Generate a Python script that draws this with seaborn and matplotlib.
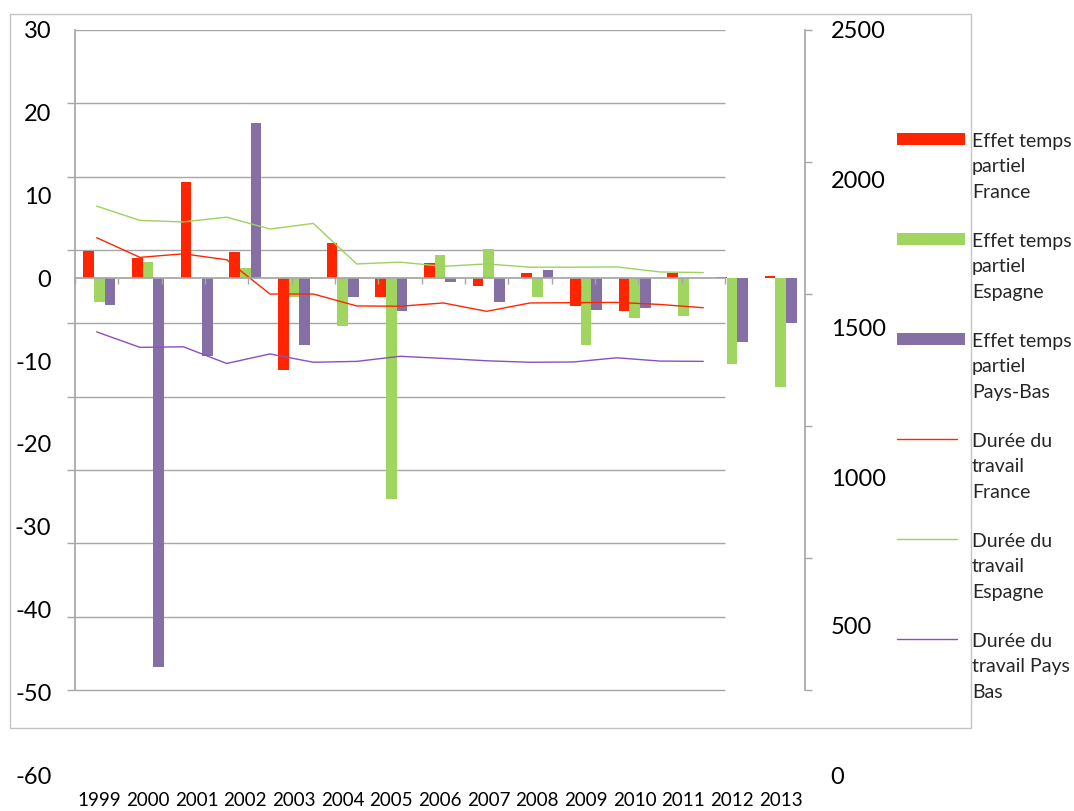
import numpy as np
import pandas as pd
import seaborn as sns
import matplotlib.pyplot as plt
from matplotlib.patches import Rectangle
from matplotlib.lines import Line2D

annees = [str(a) for a in range(1999, 2014)]
pays = ['France', 'Espagne', 'Pays-Bas']

# effet temps partiel (axe de gauche)
effet_france = [3.3, 2.5, 11.6, 3.2, -11.1, 4.3, -2.3, 1.8, -0.9, 0.6, -3.4, -4.0, 0.6, 0.2, 0.3]
effet_espagne = [-2.9, 2.0, np.nan, 1.2, -2.3, -5.7, -26.6, 2.8, 3.6, -2.3, -8.0, -4.8, -4.6, -10.4, -13.1]
effet_pays_bas = [-3.2, -46.9, -9.4, 18.8, -8.1, -2.3, -3.9, -0.4, -2.9, 1.0, -3.8, -3.6, np.nan, -7.7, -5.4]

# durée du travail (axe de droite)
duree_france = [1803, 1737, 1749, 1729, 1614, 1614, 1574, 1573, 1584, 1556, 1584, 1585, 1586, 1579, 1568]
duree_espagne = [1909, 1861, 1856, 1872, 1832, 1851, 1715, 1721, 1707, 1715, 1704, 1704, 1705, 1688, 1686]
duree_pays_bas = [1487, 1435, 1437, 1381, 1413, 1385, 1388, 1405, 1398, 1390, 1385, 1386, 1400, 1389, 1388]

legende = ['Effet temps\npartiel\nFrance', 'Effet temps\npartiel\nEspagne',
           'Effet temps\npartiel\nPays-Bas', 'Durée du\ntravail\nFrance',
           'Durée du\ntravail\nEspagne', 'Durée du\ntravail Pays\nBas']

couleurs = {'France': '#FF2500', 'Espagne': '#A0D55F', 'Pays-Bas': '#8570A5'}
couleurs_lignes = {'France': '#FF2600', 'Espagne': '#9DD35C', 'Pays-Bas': '#8A4FC0'}
gris = '#A6A6A6'

sns.set_theme(style="white")
plt.rcParams['font.family'] = ['Lato', 'DejaVu Sans']
plt.rcParams['axes.unicode_minus'] = False

W, H = 1074, 811
def px_box(x0, y0, x1, y1):
    return [x0 / W, 1 - y1 / H, (x1 - x0) / W, (y1 - y0) / H]

df_bar = pd.DataFrame({
    'annee': annees * 3,
    'pays': [p for p in pays for _ in annees],
    'valeur': effet_france + effet_espagne + effet_pays_bas,
})
df_line = pd.DataFrame({
    'rang': list(range(len(annees))) * 3,
    'pays': [p for p in pays for _ in annees],
    'duree': duree_france + duree_espagne + duree_pays_bas,
})

fig = plt.figure(figsize=(W / 100, H / 100), dpi=100)

# barres
ax_bar = fig.add_axes(px_box(75, 30, 805, 775))
sns.barplot(data=df_bar, x='annee', y='valeur', hue='pays', order=annees,
            hue_order=pays, palette=couleurs, width=0.66, errorbar=None,
            saturation=1, linewidth=0, legend=False, ax=ax_bar)
ax_bar.set_xlim(-0.5, 14.5)
ax_bar.set_ylim(-60, 30)
ax_bar.set_xlabel('')
ax_bar.set_ylabel('')

y_bas = 30 - 90 * (690 - 30) / (775 - 30)
grille = np.linspace(30, y_bas, 10)
ax_bar.set_yticks(range(-60, 31, 10))
ax_bar.set_yticks(grille, minor=True)
ax_bar.tick_params(axis='y', which='major', left=False, length=0, pad=17, labelsize=17, labelcolor='black')
ax_bar.tick_params(axis='y', which='minor', left=True, length=5.8, width=1, color=gris, direction='out')
ax_bar.tick_params(axis='x', length=0, pad=12, labelsize=13.5, labelcolor='black')
ax_bar.hlines(grille, 0, 650 / 730, transform=ax_bar.get_yaxis_transform(),
              colors=gris, lw=1, zorder=0)
for s in ['top', 'right', 'bottom']:
    ax_bar.spines[s].set_visible(False)
ax_bar.spines['left'].set_bounds(y_bas, 30)
ax_bar.spines['left'].set_color(gris)

ax_r = ax_bar.twinx()
ax_r.set_ylim(-60, 30)
ax_r.set_yticks(np.linspace(30, y_bas, 6))
ax_r.tick_params(axis='y', right=True, length=5, width=1, color=gris, labelright=False, direction='out')
for s in ['top', 'left', 'bottom']:
    ax_r.spines[s].set_visible(False)
ax_r.spines['right'].set_bounds(y_bas, 30)
ax_r.spines['right'].set_color(gris)

# lignes
ax_line = fig.add_axes(px_box(75, 30, 725, 775))
ax_line.patch.set_alpha(0)
sns.lineplot(data=df_line, x='rang', y='duree', hue='pays', hue_order=pays,
             palette=couleurs_lignes, lw=1, legend=False, ax=ax_line)
ax_line.set_xlim(-0.5, 14.5)
ax_line.set_ylim(0, 2500)
ax_line.set_xlabel('')
ax_line.set_ylabel('')
ax_line.yaxis.tick_right()
ax_line.set_yticks(range(0, 2501, 500))
ax_line.tick_params(axis='y', right=True, left=False, length=0, pad=76, labelsize=17, labelcolor='black')
ax_line.set_xticks(np.arange(-0.5, 15, 1))
ax_line.tick_params(axis='x', bottom=True, length=4.3, width=1, color=gris, labelbottom=False, direction='out')
for s in ['top', 'left', 'right']:
    ax_line.spines[s].set_visible(False)
ax_line.spines['bottom'].set_position(('axes', 60 / 90))
ax_line.spines['bottom'].set_color(gris)

# cadre
fig.add_artist(Rectangle((10 / W, 1 - 728 / H), 961 / W, 714 / H, fill=False,
                         edgecolor='#C4C4C4', lw=1, transform=fig.transFigure))

# légende
for k, texte in enumerate(legende):
    y = 139 + 100 * k
    nom = pays[k % 3]
    if k < 3:
        fig.add_artist(Rectangle((897 / W, 1 - (y + 6) / H), 68 / W, 12 / H,
                                 facecolor=couleurs[nom], edgecolor='none',
                                 transform=fig.transFigure))
    else:
        fig.add_artist(Line2D([897 / W, 957 / W], [1 - y / H] * 2,
                              color=couleurs_lignes[nom], lw=1,
                              transform=fig.transFigure))
    fig.text(972 / W, 1 - (y - 6) / H, texte, fontsize=14, va='top',
             ha='left', linespacing=1.6)

fig.savefig('out.png', dpi=100)
